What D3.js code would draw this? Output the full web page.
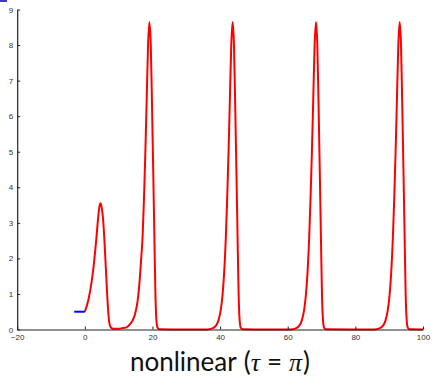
<!DOCTYPE html>
<html>
<head>
<meta charset="utf-8">
<script src="https://d3js.org/d3.v7.min.js"></script>
<style>
  body { margin: 0; background: #fff; }
</style>
</head>
<body>
<script>
// history on [-tau, 0] (blue) and solution (red)
var histT = [-3.14, 0];
var histY = [0.5, 0.5];

var solT = [0, 1.1, 2.1, 2.8, 3.4, 3.9, 4.3, 4.6, 4.95, 5.35, 5.8, 6.2, 6.6, 7.0, 7.4, 7.9, 8.6, 10.0, 11.2,
  12.3, 13.1, 14.1, 14.9, 15.6, 16.1, 16.6, 17.1, 17.5, 17.9, 18.3, 18.7, 19.1, 19.5, 19.85, 20.2, 20.55, 20.85, 21.15, 21.5, 22.1, 28,
  36.2, 37.7, 38.7, 39.5, 40.2, 40.7, 41.2, 41.7, 42.1, 42.5, 42.9, 43.3, 43.7, 44.1, 44.45, 44.8, 45.15, 45.45, 45.75, 46.1, 46.7, 53,
  60.85, 62.35, 63.35, 64.15, 64.85, 65.35, 65.85, 66.35, 66.75, 67.15, 67.55, 67.95, 68.35, 68.75, 69.1, 69.45, 69.8, 70.1, 70.4, 70.75, 71.35, 78,
  85.6, 87.1, 88.1, 88.9, 89.6, 90.1, 90.6, 91.1, 91.5, 91.9, 92.3, 92.7, 93.1, 93.5, 93.85, 94.2, 94.55, 94.85, 95.15, 95.5, 96.1, 100];
var solY = [0.5, 0.85, 1.4, 1.95, 2.55, 3.1, 3.45, 3.55, 3.45, 3.15, 2.5, 1.75, 1.0, 0.4, 0.12, 0.04, 0.02, 0.02, 0.04,
  0.06, 0.12, 0.25, 0.45, 0.8, 1.25, 1.9, 2.65, 3.7, 5.0, 6.5, 8.0, 8.65, 8.0, 6.4, 4.6, 2.7, 1.1, 0.3, 0.05, 0.004, 0.0001,
  0.002, 0.03, 0.1, 0.25, 0.55, 0.95, 1.6, 2.6, 3.7, 5.0, 6.5, 8.0, 8.65, 8.0, 6.4, 4.6, 2.7, 1.1, 0.3, 0.05, 0.004, 0.0001,
  0.002, 0.03, 0.1, 0.25, 0.55, 0.95, 1.6, 2.6, 3.7, 5.0, 6.5, 8.0, 8.65, 8.0, 6.4, 4.6, 2.7, 1.1, 0.3, 0.05, 0.004, 0.0001,
  0.002, 0.03, 0.1, 0.25, 0.55, 0.95, 1.6, 2.6, 3.7, 5.0, 6.5, 8.0, 8.65, 8.0, 6.4, 4.6, 2.7, 1.1, 0.3, 0.05, 0.004, 0.0001];

var xTicks = [-20, 0, 20, 40, 60, 80, 100];
var yTicks = [0, 1, 2, 3, 4, 5, 6, 7, 8, 9];
var title = ["nonlinear", "(", "τ", "=", "π", ")"];

var width = 434, height = 379;

var svg = d3.select("body").append("svg")
  .attr("width", width)
  .attr("height", height);

// little blue mark in the corner of the original
svg.append("rect").attr("x", 0).attr("y", 0).attr("width", 7).attr("height", 2).attr("fill", "#3b3bbf");

var x = d3.scaleLinear().domain([-20, 100]).range([17.2, 423]);
var y = d3.scaleLinear().domain([0, 9]).range([329.5, 9.5]);

var line = d3.line()
  .x(function(d) { return x(d[0]); })
  .y(function(d) { return y(d[1]); })
  .curve(d3.curveMonotoneX);

svg.append("path")
  .datum(d3.zip(solT, solY))
  .attr("d", line)
  .attr("fill", "none")
  .attr("stroke", "#ff0000")
  .attr("stroke-width", 2);

svg.append("path")
  .datum(d3.zip(histT, histY))
  .attr("d", line)
  .attr("fill", "none")
  .attr("stroke", "#0000ff")
  .attr("stroke-width", 2);

// axes: ticks point inward
svg.append("g")
  .attr("transform", "translate(0," + y(0) + ")")
  .call(d3.axisBottom(x).tickValues(xTicks).tickSizeInner(-3).tickSizeOuter(0).tickPadding(5));

svg.append("g")
  .attr("transform", "translate(" + x(-20) + ",0)")
  .call(d3.axisLeft(y).tickValues(yTicks).tickSizeInner(-3).tickSizeOuter(0).tickPadding(4));

svg.selectAll(".domain").attr("stroke", "#222").attr("stroke-width", 1.2);
svg.selectAll(".tick line").attr("stroke", "#222");
svg.selectAll(".tick text")
  .attr("font-family", "Liberation Sans, Arial, sans-serif")
  .attr("font-size", 8)
  .attr("fill", "#333");

var isMath = function(d) { return d == "τ" || d == "π"; };
var gap = {"nonlinear": 0, "(": 7, "τ": 0, "=": 7, "π": 7, ")": 1};

var t = svg.append("text")
  .attr("x", 220)
  .attr("y", 371)
  .attr("text-anchor", "middle")
  .attr("font-family", "Lato, sans-serif")
  .attr("font-size", 26)
  .attr("fill", "#111");

t.selectAll("tspan")
  .data(title)
  .enter()
  .append("tspan")
  .attr("dx", function(d) { return gap[d]; })
  .attr("font-style", function(d) { return isMath(d) ? "italic" : null; })
  .attr("font-family", function(d) { return isMath(d) ? "Liberation Serif, serif" : null; })
  .text(function(d) { return d; });
</script>
</body>
</html>
